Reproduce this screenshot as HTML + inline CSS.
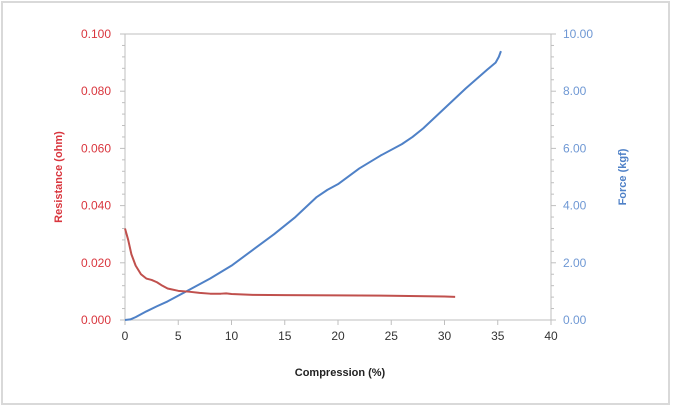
<!DOCTYPE html>
<html><head><meta charset="utf-8"><style>
html,body{margin:0;padding:0;background:#fff}
svg{display:block;font-family:"Liberation Sans",sans-serif}
</style></head><body>
<svg id="chart" width="674" height="406">
<rect x="2" y="2" width="667" height="402" fill="#fff" stroke="#d9d9d9" stroke-width="2"/>
<g id="axes"></g>
<g id="series"></g>
<text x="340" y="376" text-anchor="middle" font-size="11" font-weight="bold" fill="#222">Compression (%)</text>
<text transform="translate(62,177) rotate(-90)" text-anchor="middle" font-size="11" font-weight="bold" fill="#d9363e">Resistance (ohm)</text>
<text transform="translate(626,177) rotate(-90)" text-anchor="middle" font-size="11" font-weight="bold" fill="#4f81c7">Force (kgf)</text>
</svg>
<script>
const xTicks=[0,5,10,15,20,25,30,35,40];
const resTicks=["0.000","0.020","0.040","0.060","0.080","0.100"];
const forceTicks=["0.00","2.00","4.00","6.00","8.00","10.00"];
const forceX=[0,0.5,1,2,3,4,6,8,10,12,14,16,17,18,19,20,22,24,26,27,28,30,32,34,34.8,35.1,35.3];
const forceY=[0,0.02,0.1,0.3,0.48,0.65,1.05,1.45,1.9,2.45,3.0,3.6,3.95,4.3,4.55,4.75,5.3,5.75,6.15,6.4,6.7,7.4,8.1,8.75,9.0,9.2,9.4];
const resX=[0,0.3,0.6,1,1.5,2,2.5,3,3.5,4,5,6,7,8,9,9.5,10,12,15,20,25,30,31];
const resY=[0.032,0.028,0.023,0.019,0.016,0.0145,0.0140,0.0132,0.0120,0.0110,0.0102,0.0099,0.0095,0.0092,0.0092,0.0093,0.0091,0.0088,0.0087,0.0086,0.0085,0.0082,0.0081];
const X0=125,X1=551,Y0=320,Y1=34;
const sx=v=>X0+(v-0)/40*(X1-X0);
const sr=v=>Y0-v/0.1*(Y0-Y1);
const sf=v=>Y0-v/10*(Y0-Y1);
const NS="http://www.w3.org/2000/svg";
function mk(t,a,p){const e=document.createElementNS(NS,t);for(const k in a)e.setAttribute(k,a[k]);p.appendChild(e);return e;}
const ax=document.getElementById('axes'),se=document.getElementById('series');
let e;
e=mk('rect',{x:X0,y:Y1,width:X1-X0,height:Y0-Y1,fill:'none',stroke:'#bfbfbf','stroke-width':1},ax);


for(let i=0;i<=25;i++){const y=Y0-i*(Y0-Y1)/25;const L=i%5==0?5:3;
 e=mk('line',{x1:X0-L,x2:X0,y1:y,y2:y,stroke:'#bfbfbf'},ax);
 
 
 e=mk('line',{x1:X1,x2:X1+L,y1:y,y2:y,stroke:'#bfbfbf'},ax);
 
 }
resTicks.forEach((t,i)=>{e=mk('text',{x:X0-14,y:sr(i*0.02)+4,'text-anchor':'end','font-size':12,fill:'#d9363e'},ax);e.textContent=t;
 
 });
forceTicks.forEach((t,i)=>{e=mk('text',{x:X1+12,y:sf(i*2)+4,'font-size':12,fill:'#6f98d4'},ax);e.textContent=t;
 
 });
xTicks.forEach(t=>{e=mk('line',{x1:sx(t),x2:sx(t),y1:Y0,y2:Y0+5,stroke:'#bfbfbf'},ax);
 
 
 e=mk('text',{x:sx(t),y:Y0+20,'text-anchor':'middle','font-size':12,fill:'#333'},ax);e.textContent=t;
 
 });
e=mk('polyline',{points:forceX.map((x,i)=>sx(x)+','+sf(forceY[i])).join(' '),fill:'none',stroke:'#4f81c7','stroke-width':2,'stroke-linejoin':'round'},se);


e=mk('polyline',{points:resX.map((x,i)=>sx(x)+','+sr(resY[i])).join(' '),fill:'none',stroke:'#c0504d','stroke-width':2,'stroke-linejoin':'round'},se);


</script>
</body></html>
